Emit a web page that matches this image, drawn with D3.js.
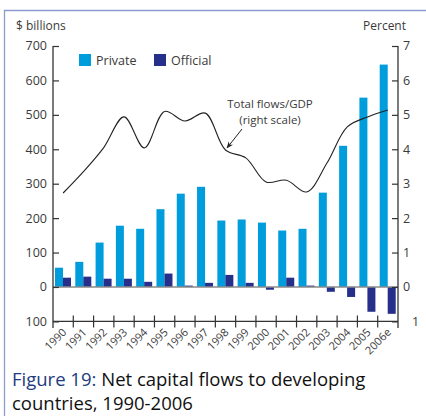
<!DOCTYPE html>
<html><head><meta charset="utf-8">
<script src="https://cdn.jsdelivr.net/npm/d3@7"></script>
<style>body{margin:0;background:#fff}svg{display:block}text{font-family:"Open Sans",sans-serif}</style>
</head><body><svg id="c" width="426" height="416"></svg>
<script>
const years = ["1990","1991","1992","1993","1994","1995","1996","1997","1998","1999","2000","2001","2002","2003","2004","2005","2006e"];
const privateFlows = [56,73,129,178,169,226,271,291,193,196,187,164,169,274,410,550,646];
const officialFlows = [27,30,24,24,15,39,4,12,35,12,-8,27,4,-14,-29,-72,-78];
const flowsGDP = [2.73,3.35,4.05,4.94,4.04,5.1,4.82,5.05,3.98,3.75,3.05,3.1,2.76,3.6,4.65,4.94,5.14];
const leftTicks = [700,600,500,400,300,200,100,0,-100];
const rightTicks = [7,6,5,4,3,2,1,0,-1];

const svg = d3.select("#c");
const X0 = 53, X1 = 398;
const x = d3.scaleBand().domain(years).range([X0, X1]).padding(0);
const yL = d3.scaleLinear().domain([-100, 700]).range([321.4, 46]);
const yR = d3.scaleLinear().domain([-1, 7]).range([321.4, 46]);
const cPriv = "#009ddc", cOff = "#262f8a", txt = "#3a3a3a";

// frame
svg.append("path").attr("d","M4.5,416 V10.5 H426").attr("fill","none").attr("stroke","#8c9bd0").attr("stroke-width",1.3);

// bars
const bw = x.bandwidth();
svg.selectAll("rect.p").data(years).join("rect")
  .attr("x", d => x(d) + 2).attr("width", 8)
  .attr("y", (d,i) => yL(privateFlows[i])).attr("height", (d,i) => yL(0) - yL(privateFlows[i]))
  .attr("fill", cPriv);
svg.selectAll("rect.o").data(years).join("rect")
  .attr("x", d => x(d) + 10).attr("width", 8)
  .attr("y", (d,i) => yL(Math.max(0, officialFlows[i]))).attr("height", (d,i) => Math.abs(yL(0) - yL(officialFlows[i])))
  .attr("fill", cOff);

// zero line
svg.append("line").attr("x1",X0).attr("x2",X1).attr("y1",yL(0)).attr("y2",yL(0)).attr("stroke","#8a8a8a").attr("stroke-width",1.5);

// left axis
const gL = svg.append("g").attr("transform",`translate(${X0},0)`)
  .call(d3.axisRight(yL).tickValues(leftTicks).tickSize(6).tickFormat(""));
gL.select(".domain").remove();
gL.selectAll("line").attr("stroke","#333").attr("stroke-width",1.2);
svg.append("line").attr("x1",X0).attr("x2",X0).attr("y1",46).attr("y2",328).attr("stroke","#333").attr("stroke-width",1.3);
svg.selectAll("text.lt").data(leftTicks).join("text")
  .attr("x",47).attr("y",d=>yL(d)).attr("dy","0.35em").attr("text-anchor","end")
  .attr("font-size",12.5).attr("fill",txt).text(d=>Math.abs(d));

// right axis
const gR = svg.append("g").attr("transform",`translate(${X1},0)`)
  .call(d3.axisLeft(yR).tickValues(rightTicks).tickSize(6).tickFormat(""));
gR.select(".domain").remove();
gR.selectAll("line").attr("stroke","#333").attr("stroke-width",1.2);
svg.append("line").attr("x1",X1).attr("x2",X1).attr("y1",46).attr("y2",328).attr("stroke","#333").attr("stroke-width",1.3);
svg.selectAll("text.rt").data(rightTicks).join("text")
  .attr("x",d=> d<0 ? 412 : 403).attr("y",d=>yR(d)).attr("dy","0.35em").attr("text-anchor","start")
  .attr("font-size",12.5).attr("fill",txt).text(d=>Math.abs(d));

// bottom axis
svg.append("line").attr("x1",X0).attr("x2",X1).attr("y1",321.4).attr("y2",321.4).attr("stroke","#333").attr("stroke-width",1.3);
svg.selectAll("line.bt").data(years.slice(1)).join("line")
  .attr("x1",d=>x(d)).attr("x2",d=>x(d)).attr("y1",315.5).attr("y2",327.5).attr("stroke","#333").attr("stroke-width",1.2);
svg.selectAll("text.yr").data(years).join("text")
  .attr("transform",d=>`translate(${x(d)+bw/2+4},${333}) rotate(-45)`)
  .attr("text-anchor","end").attr("font-size",11).attr("fill",txt).text(d=>d);

// line
const line = d3.line().x((d,i)=>x(years[i])+bw/2).y(d=>yR(d)).curve(d3.curveCatmullRom.alpha(0.5));
svg.append("path").datum(flowsGDP).attr("d",line).attr("fill","none").attr("stroke","#222").attr("stroke-width",1.1);

// annotation
svg.append("text").attr("x",270).attr("y",108).attr("text-anchor","middle").attr("font-size",11.5).attr("fill",txt).text("Total flows/GDP");
svg.append("text").attr("x",270).attr("y",124).attr("text-anchor","middle").attr("font-size",11.5).attr("fill",txt).text("(right scale)");
svg.append("defs").append("marker").attr("id","ah").attr("viewBox","0 0 10 10").attr("refX",9).attr("refY",5)
  .attr("markerWidth",7).attr("markerHeight",7).attr("orient","auto")
  .append("path").attr("d","M0,1 L10,5 L0,9 L3,5 Z").attr("fill","#222");
svg.append("line").attr("x1",242).attr("y1",129).attr("x2",227).attr("y2",148).attr("stroke","#222").attr("stroke-width",1).attr("marker-end","url(#ah)");

// axis titles
svg.append("text").attr("x",16).attr("y",30).attr("font-size",12).attr("fill",txt).text("$ billions");
svg.append("text").attr("x",406).attr("y",30).attr("text-anchor","end").attr("font-size",12).attr("fill",txt).text("Percent");

// legend
const legend = [{n:"Private",c:cPriv,x:79},{n:"Official",c:cOff,x:154}];
legend.forEach(l=>{
  svg.append("rect").attr("x",l.x).attr("y",54).attr("width",12).attr("height",12).attr("fill",l.c);
  svg.append("text").attr("x",l.x+17).attr("y",64.5).attr("font-size",12.5).attr("fill",txt).text(l.n);
});

// caption
const cap = svg.append("text").attr("x",12).attr("y",386).attr("font-size",18.5).attr("fill","#111");
cap.append("tspan").attr("fill","#1f3c80").text("Figure 19:");
cap.append("tspan").text(" Net capital flows to developing");
svg.append("text").attr("x",12).attr("y",410).attr("font-size",18.5).attr("fill","#111").text("countries, 1990-2006");
</script></body></html>
